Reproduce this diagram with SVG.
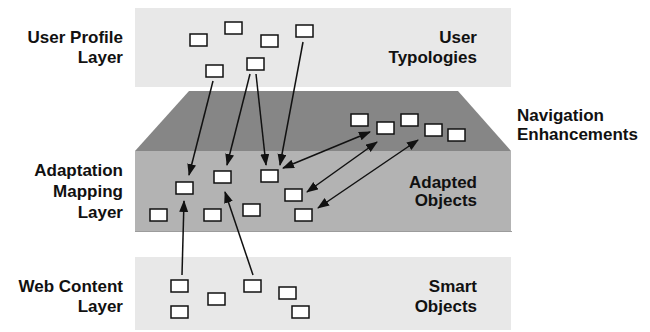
<svg xmlns="http://www.w3.org/2000/svg" width="650" height="332" viewBox="0 0 650 332">
<style>
.lbl{font-family:"Liberation Sans",Arial,Helvetica,sans-serif;font-weight:bold;font-size:17px;fill:#111}
.e{text-anchor:end}
.b{fill:#fff;stroke:#111;stroke-width:1.5}
.c{stroke:#111;stroke-width:1.5;fill:none}
</style>
<defs>
<marker id="ah" markerUnits="userSpaceOnUse" markerWidth="12" markerHeight="10" refX="11" refY="4.5" orient="auto-start-reverse" viewBox="0 0 12 10">
<path d="M0,0 L12,4.5 L0,9 z" fill="#111"/>
</marker>
</defs>
<rect width="650" height="332" fill="#fff"/>
<g id="layers">
<rect id="user-profile-layer" x="135" y="8" width="376" height="79" fill="#e8e8e8"/>
<polygon id="navigation-plane" points="189,91 458,91 511,151 135,151" fill="#868686"/>
<rect id="adaptation-layer" x="135" y="151" width="376" height="81" fill="#b3b3b3"/>
<line x1="135" y1="231.5" x2="512" y2="231.5" stroke="#9c9c9c" stroke-width="1"/>
<rect id="web-content-layer" x="135" y="257" width="376" height="73" fill="#e8e8e8"/>
</g>
<g id="labels">
<text class="lbl e" x="123" y="43">User Profile</text>
<text class="lbl e" x="123" y="63">Layer</text>
<text class="lbl e" x="477" y="43">User</text>
<text class="lbl e" x="477" y="63">Typologies</text>
<text class="lbl" x="517" y="121">Navigation</text>
<text class="lbl" x="517" y="140">Enhancements</text>
<text class="lbl e" x="123" y="176">Adaptation</text>
<text class="lbl e" x="123" y="197">Mapping</text>
<text class="lbl e" x="123" y="218">Layer</text>
<text class="lbl e" x="477" y="188">Adapted</text>
<text class="lbl e" x="477" y="206">Objects</text>
<text class="lbl e" x="123" y="292">Web Content</text>
<text class="lbl e" x="123" y="312">Layer</text>
<text class="lbl e" x="477" y="292">Smart</text>
<text class="lbl e" x="477" y="312">Objects</text>
</g>
<g id="connectors">
<line class="c" x1="213" y1="81" x2="189" y2="175" marker-end="url(#ah)"/>
<line class="c" x1="250" y1="74" x2="227" y2="165" marker-end="url(#ah)"/>
<line class="c" x1="256" y1="74" x2="266" y2="165" marker-end="url(#ah)"/>
<line class="c" x1="303" y1="42" x2="280" y2="165" marker-end="url(#ah)"/>
<line class="c" x1="283" y1="168" x2="370" y2="132" marker-start="url(#ah)" marker-end="url(#ah)"/>
<line class="c" x1="307" y1="192" x2="377" y2="142" marker-start="url(#ah)" marker-end="url(#ah)"/>
<line class="c" x1="318" y1="208" x2="418" y2="140" marker-start="url(#ah)" marker-end="url(#ah)"/>
<line class="c" x1="182" y1="275" x2="184" y2="201" marker-end="url(#ah)"/>
<line class="c" x1="253" y1="275" x2="225" y2="192" marker-end="url(#ah)"/>
</g>
<g id="t1"><rect class="b" x="190" y="34" width="17" height="12"/></g>
<g id="t2"><rect class="b" x="225" y="22" width="17" height="12"/></g>
<g id="t3"><rect class="b" x="261" y="35" width="17" height="12"/></g>
<g id="t4"><rect class="b" x="296" y="25" width="17" height="12"/></g>
<g id="t5"><rect class="b" x="206" y="65" width="17" height="12"/></g>
<g id="t6"><rect class="b" x="247" y="58" width="17" height="12"/></g>
<g id="m1"><rect class="b" x="176" y="182" width="17" height="12"/></g>
<g id="m2"><rect class="b" x="214" y="171" width="17" height="12"/></g>
<g id="m3"><rect class="b" x="261" y="170" width="17" height="12"/></g>
<g id="m4"><rect class="b" x="285" y="189" width="17" height="12"/></g>
<g id="m5"><rect class="b" x="150" y="209" width="17" height="12"/></g>
<g id="m6"><rect class="b" x="204" y="209" width="17" height="12"/></g>
<g id="m7"><rect class="b" x="243" y="204" width="17" height="12"/></g>
<g id="m8"><rect class="b" x="295" y="209" width="17" height="12"/></g>
<g id="n1"><rect class="b" x="351" y="114" width="17" height="12"/></g>
<g id="n2"><rect class="b" x="377" y="122" width="17" height="12"/></g>
<g id="n3"><rect class="b" x="401" y="114" width="17" height="12"/></g>
<g id="n4"><rect class="b" x="425" y="124" width="17" height="12"/></g>
<g id="n5"><rect class="b" x="448" y="129" width="17" height="12"/></g>
<g id="w1"><rect class="b" x="171" y="280" width="17" height="12"/></g>
<g id="w2"><rect class="b" x="208" y="293" width="17" height="12"/></g>
<g id="w3"><rect class="b" x="244" y="280" width="17" height="12"/></g>
<g id="w4"><rect class="b" x="279" y="287" width="17" height="12"/></g>
<g id="w5"><rect class="b" x="171" y="306" width="17" height="12"/></g>
<g id="w6"><rect class="b" x="292" y="306" width="17" height="12"/></g>
</svg>
